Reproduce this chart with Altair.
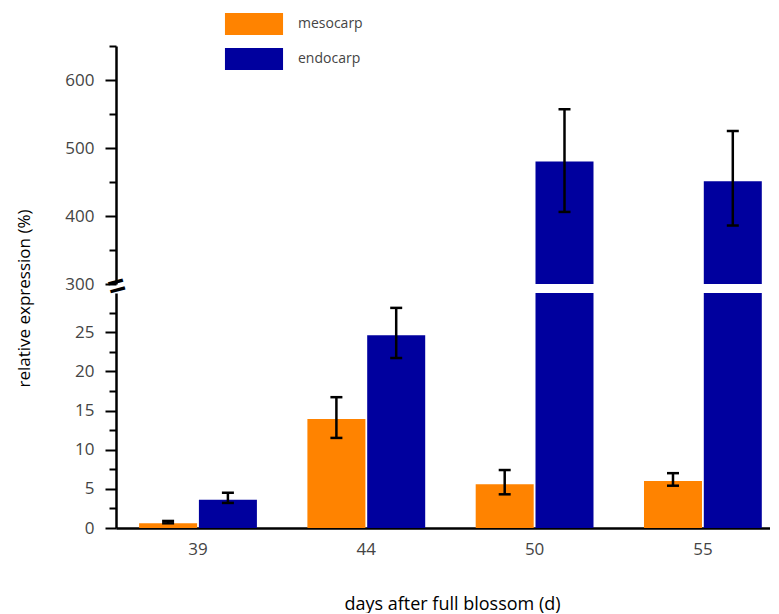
import altair as alt
import pandas as pd

days = ["39", "44", "50", "55"]
tissues = ["mesocarp", "endocarp"]
meso = [0.6, 13.9, 5.6, 6.0]
meso_lo = [0.6, 11.5, 4.3, 5.4]
meso_hi = [0.9, 16.7, 7.4, 7.0]
endo = [3.6, 24.6, 480, 451]
endo_lo = [3.2, 21.7, 406, 386]
endo_hi = [4.5, 28.1, 557, 525]
colors = ["#FF8300", "#00009E"]

upper_major = [300, 400, 500, 600]
upper_minor = [350, 450, 550, 650]
lower_major = [0, 5, 10, 15, 20, 25]
lower_minor = [2.5, 7.5, 12.5, 17.5, 22.5, 27.5]

rows = []
for i, d in enumerate(days):
    rows.append(dict(day=d, tissue="mesocarp", value=meso[i], lo=meso_lo[i], hi=meso_hi[i]))
    rows.append(dict(day=d, tissue="endocarp", value=endo[i], lo=endo_lo[i], hi=endo_hi[i]))
df = pd.DataFrame(rows)

FONT = "Open Sans"
W = 654
H_UP = 238
H_LO = 235


def major_axis(values, title=None):
    kw = dict(
        values=values,
        orient="left",
        tickSize=11,
        tickWidth=2,
        tickColor="black",
        domainColor="black",
        domainWidth=2.5,
        labelFont=FONT,
        labelFontSize=17,
        labelColor="#444",
        labelPadding=11,
        grid=False,
    )
    if title:
        kw.update(
            title=title,
            titleFont=FONT,
            titleFontSize=17,
            titleFontWeight="normal",
            titleColor="black",
            titleX=-87,
            titleY=5,
            titleBaseline="alphabetic",
        )
    else:
        kw["title"] = None
    return alt.Axis(**kw)


def minor_axis(values):
    return alt.Axis(
        values=values,
        orient="left",
        tickSize=7,
        tickWidth=2,
        tickColor="black",
        labels=False,
        domain=False,
        grid=False,
        title=None,
    )


def panel(domain, major, minor, show_x, legend):
    xaxis = None
    if show_x:
        xaxis = alt.Axis(
            title="days after full blossom (d)",
            titleFont=FONT,
            titleFontSize=18,
            titleFontWeight="normal",
            titleColor="black",
            titlePadding=38,
            titleX=336,
            labelAngle=0,
            ticks=False,
            labelPadding=13,
            labelFont=FONT,
            labelFontSize=17,
            labelColor="#444",
            domainColor="black",
            domainWidth=2.5,
        )
    xenc = alt.X("day:N", sort=days, axis=xaxis,
                 scale=alt.Scale(paddingInner=0.3, paddingOuter=0.093, align=0.738))
    xoff = alt.XOffset("tissue:N", sort=tissues, scale=alt.Scale(paddingInner=0.03))
    yscale = alt.Scale(domain=domain, zero=False, nice=False)
    base = alt.Chart(df)
    bars = base.mark_bar(clip=True).encode(
        x=xenc,
        xOffset=xoff,
        y=alt.Y("value:Q", scale=yscale, axis=major),
        color=alt.Color("tissue:N", sort=tissues,
                        scale=alt.Scale(domain=tissues, range=colors),
                        legend=legend),
    )
    err = base.mark_rule(clip=True, color="black", strokeWidth=2.5).encode(
        x=xenc, xOffset=xoff, y=alt.Y("lo:Q", scale=yscale, axis=minor), y2="hi:Q"
    )
    cap_hi = base.mark_tick(clip=True, color="black", thickness=2.5, size=12,
                            orient="horizontal", opacity=1).encode(
        x=xenc, xOffset=xoff, y=alt.Y("hi:Q", scale=yscale, axis=None)
    )
    cap_lo = base.mark_tick(clip=True, color="black", thickness=2.5, size=12,
                            orient="horizontal", opacity=1).encode(
        x=xenc, xOffset=xoff, y=alt.Y("lo:Q", scale=yscale, axis=None)
    )
    return [bars, err, cap_hi, cap_lo], yscale


legend = alt.Legend(
    orient="none",
    legendX=127,
    legendY=-33,
    title=None,
    symbolType="M-2.64,-1H2.64V1H-2.64Z",
    symbolSize=484,
    symbolStrokeWidth=0,
    symbolOpacity=1,
    labelFont=FONT,
    labelFontSize=14,
    labelColor="#444",
    labelOffset=33,
    rowPadding=13,
    padding=0,
)

up_layers, up_scale = panel([300, 650], major_axis(upper_major),
                            minor_axis(upper_minor), False, legend)
brk = alt.Chart(pd.DataFrame({"v": [300]})).mark_text(
    text="=", angle=345, fontSize=30, fontWeight="bold", color="black",
    baseline="middle", align="center", dy=3
).encode(x=alt.value(0), y=alt.Y("v:Q", scale=up_scale, axis=None))
upper = (
    alt.layer(*up_layers, brk)
    .resolve_axis(y="independent")
    .properties(width=W, height=H_UP)
)

lo_layers, lo_scale = panel([0, 30],
                            major_axis(lower_major, "relative expression (%)"),
                            minor_axis(lower_minor), True, None)
lower = (
    alt.layer(*lo_layers)
    .resolve_axis(y="independent")
    .properties(width=W, height=H_LO)
)

chart = (
    alt.vconcat(upper, lower, spacing=9, bounds="flush")
    .resolve_legend(color="independent")
    .properties(padding={"left": 6, "top": 5, "right": 0, "bottom": 0}, background="white")
    .configure_view(stroke=None)
)

chart.save("out.html", embed_options={"renderer": "svg", "actions": False})
